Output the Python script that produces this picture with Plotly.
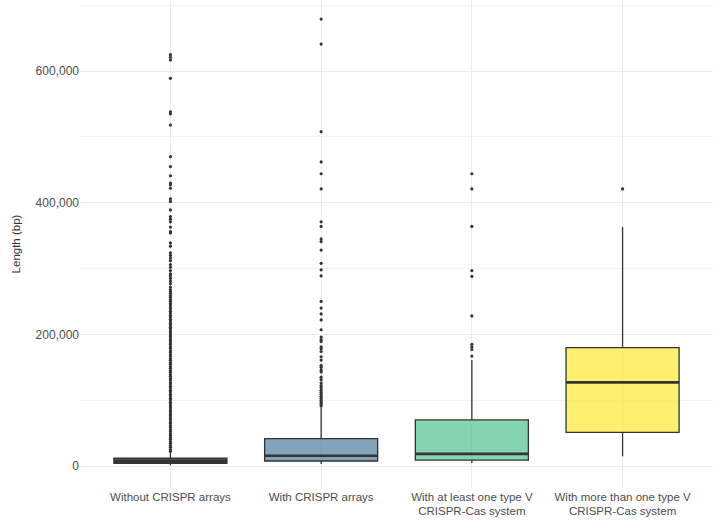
import plotly.graph_objects as go

categories = [
    "Without CRISPR arrays",
    "With CRISPR arrays",
    "With at least one type V<br>CRISPR-Cas system",
    "With more than one type V<br>CRISPR-Cas system",
]

q1 = [4000, 7600, 9000, 51000]
medians = [7000, 15700, 18500, 127000]
q3 = [12000, 41500, 70000, 180000]
lower_whisker = [1000, 3000, 4500, 15000]
upper_whisker = [22000, 88600, 161000, 363000]

fill_colors = [
    "#4f4858",
    "rgba(49,104,142,0.6)",
    "rgba(53,183,121,0.6)",
    "rgba(253,231,37,0.65)",
]

outliers_without = [
    22500, 25000, 28500, 31000, 34500, 37000, 40500, 43000, 46500, 49000,
    52500, 55000, 58500, 61000, 64500, 67000, 70500, 73000, 76500, 79000,
    82500, 85000, 88500, 91000, 94500, 97000, 100500, 103000, 106500, 109000,
    112500, 115000, 118500, 121000, 124500, 127000, 130500, 133000, 136500,
    139000, 142500, 145000, 148500, 151000, 154500, 157000, 160500, 163000,
    166500, 169000, 172500, 175000, 178500, 181000, 184500, 187000, 190500,
    193000, 196500, 199000, 202500, 205000, 208500, 211000, 214500, 217000,
    220500, 223000, 226500, 229000, 232500, 235000, 238500, 241000, 244500,
    247000, 250500, 253000, 256500, 259000, 262500, 265000, 268000,
    272000, 277000, 281000, 285000, 289000, 292000, 297000, 302000, 306000,
    312000, 316000, 320000, 324000, 334000, 339000, 354000, 356000, 363000,
    371000, 375000, 379000, 389000, 402000, 406000, 422000, 427000, 430000,
    441000, 455000, 470000, 518000, 535000, 538000, 589000, 617000, 621000,
    625000,
]
outliers_with = [
    91000, 94000, 97000, 100000, 103000, 106000, 109000, 112000, 115000,
    119000, 122000, 126000, 131000, 135000, 143000, 146000, 150000, 153000,
    161000, 166000, 174000, 178000, 181000, 189000, 192000, 196000, 207000,
    222000, 231000, 240000, 250000, 289000, 298000, 308000, 328000, 341000,
    345000, 364000, 371000, 421000, 444000, 462000, 508000, 641000, 679000,
]
outliers_one_v = [167000, 177000, 181000, 185000, 228000, 288000, 297000, 364000, 421000, 444000]
outliers_more_v = [421000]

outliers = [outliers_without, outliers_with, outliers_one_v, outliers_more_v]

fig = go.Figure()

for i, cat in enumerate(categories):
    fig.add_trace(go.Box(
        x=[cat],
        q1=[q1[i]],
        median=[medians[i]],
        q3=[q3[i]],
        lowerfence=[lower_whisker[i]],
        upperfence=[upper_whisker[i]],
        fillcolor=fill_colors[i],
        line=dict(color="#333333", width=1.3),
        whiskerwidth=0,
        width=0.75,
        boxpoints=False,
        hoverinfo="skip",
    ))
    # thicker median line, like ggplot
    fig.add_trace(go.Box(
        x=[cat],
        q1=[medians[i]],
        median=[medians[i]],
        q3=[medians[i]],
        lowerfence=[medians[i]],
        upperfence=[medians[i]],
        fillcolor="rgba(0,0,0,0)",
        line=dict(color="#333333", width=2.6),
        whiskerwidth=0,
        width=0.75,
        boxpoints=False,
        hoverinfo="skip",
    ))
    fig.add_trace(go.Scatter(
        x=[cat] * len(outliers[i]),
        y=outliers[i],
        mode="markers",
        marker=dict(color="#333333", size=3.2),
        hoverinfo="skip",
    ))

fig.update_layout(
    template="plotly_white",
    width=720,
    height=528,
    showlegend=False,
    plot_bgcolor="white",
    paper_bgcolor="white",
    margin=dict(l=80, r=7, t=0, b=40),
    font=dict(family="Liberation Sans, Arial, sans-serif", color="#4d4d4d", size=12),
)

fig.update_xaxes(
    range=[-0.6, 3.6],
    automargin=False,
    showgrid=True,
    gridcolor="#ebebeb",
    gridwidth=1,
    zeroline=False,
    showline=False,
    ticks="",
    tickfont=dict(size=11.5, color="#4d4d4d"),
)

fig.update_yaxes(
    range=[-33400, 708000],
    automargin=False,
    tick0=0,
    dtick=200000,
    tickformat=",d",
    showgrid=True,
    gridcolor="#ebebeb",
    gridwidth=1,
    minor=dict(dtick=100000, showgrid=True, gridcolor="#f4f4f4", gridwidth=1),
    zeroline=False,
    showline=False,
    ticks="",
    tickfont=dict(size=12, color="#4d4d4d"),
    title=dict(text="Length (bp)", font=dict(size=11.5, color="#333333"), standoff=12),
)

fig.write_html(
    "out.html",
    config={"displayModeBar": False},
    post_script="document.body.style.margin = '0';",
)
